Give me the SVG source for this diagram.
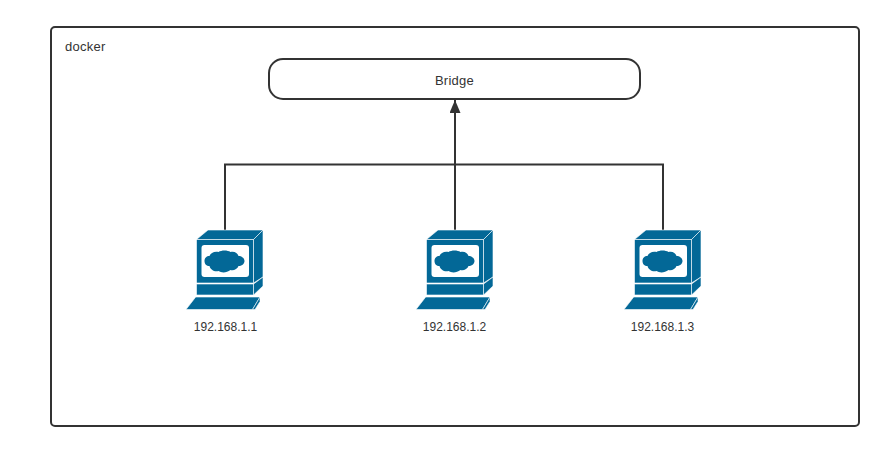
<svg xmlns="http://www.w3.org/2000/svg" width="884" height="451" viewBox="0 0 884 451">
<style>
text{font-family:"Liberation Sans",Arial,sans-serif;font-size:12px;fill:#333}
.lbl{font-size:13px;letter-spacing:.25px}
.box{fill:#fff;stroke:#333;stroke-width:2}
.wire{fill:none;stroke:#333;stroke-width:2}
.m{fill:#036897;stroke:#fff;stroke-width:.6}
</style>
<defs>
<marker id="arrow" markerUnits="userSpaceOnUse" markerWidth="13" markerHeight="11" refX="13" refY="5.5" orient="auto" viewBox="0 0 13 11"><path d="M0 0L13 5.500L0 11Z" fill="#333"/></marker>
<g id="pc">
<path class="m" d="M21.500 19.500L33 10H88L78.500 19.500Z"/>
<path class="m" d="M78.500 19.500L88 10V57L78.500 63Z"/>
<rect class="m" x="21.500" y="19.500" width="57" height="43.500"/>
<rect x="26.500" y="25" width="47.500" height="32" rx="3" fill="#fff"/>
<path fill="#036897" d="M29.500 41c0-3 2-5 5-5 1-3 5-5 9-4 3-2 9-2 12 0 4-1 7 1 8 4 3 0 6 2 6 5s-3 5-6 5c-1 3-5 5-8 4-4 3-9 3-12 1-4 1-8-1-9-5-3 0-5-2-5-5z"/>
<path class="m" d="M21.500 64H78.500V75H21.500Z"/>
<path class="m" d="M78.500 64L88 57V66L78.500 75Z"/>
<path class="m" d="M11 89.500L20.700 77H85L77.500 89.500Z"/>
<path class="m" d="M77.500 89.500L85 77V81.500L80 89.500Z"/>
</g>
</defs>
<g id="docker"><rect class="box" x="51" y="27" width="808" height="399" rx="4"/><text class="lbl" x="65" y="51">docker</text></g>
<g id="bridge"><rect class="box" x="269" y="59" width="371" height="40" rx="14"/><text class="lbl" x="454.500" y="85" text-anchor="middle">Bridge</text></g>
<g id="connectors">
<path class="wire" d="M225 230V164.500H455"/>
<path class="wire" d="M663 230V164.500H455"/>
<path class="wire" d="M455 230V100" marker-end="url(#arrow)"/>
</g>
<g id="host1"><use href="#pc" x="175" y="220"/><text x="225.500" y="331" text-anchor="middle">192.168.1.1</text></g>
<g id="host2"><use href="#pc" x="405" y="220"/><text x="454.500" y="331" text-anchor="middle">192.168.1.2</text></g>
<g id="host3"><use href="#pc" x="613" y="220"/><text x="662.500" y="331" text-anchor="middle">192.168.1.3</text></g>
</svg>
